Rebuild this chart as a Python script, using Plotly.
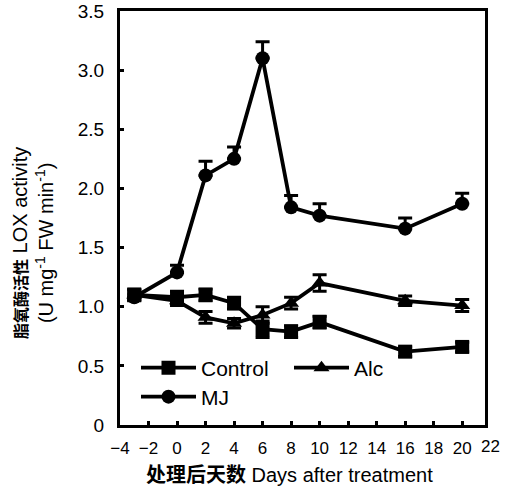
import plotly.graph_objects as go

# ---- data ----
days = [-3, 0, 2, 4, 6, 8, 10, 16, 20]
control = [1.10, 1.08, 1.10, 1.03, 0.81, 0.79, 0.87, 0.62, 0.66]
control_err = [0.05, 0.05, 0.05, 0.05, 0.07, 0.05, 0.05, 0.04, 0.04]
alc = [1.10, 1.05, 0.91, 0.86, 0.93, 1.03, 1.20, 1.05, 1.01]
alc_err = [0.04, 0.04, 0.05, 0.04, 0.07, 0.05, 0.07, 0.04, 0.05]
mj = [1.08, 1.29, 2.11, 2.25, 3.10, 1.84, 1.77, 1.66, 1.87]
mj_err = [0.03, 0.06, 0.12, 0.10, 0.14, 0.10, 0.10, 0.09, 0.09]

x_ticks = [-4, -2, 0, 2, 4, 6, 8, 10, 12, 14, 16, 18, 20]
x_ticktext = ["\u22124", "\u22122", "0", "2", "4", "6", "8", "10", "12", "14", "16", "18", "20"]
x_extra_tick = 22
y_ticks = [0, 0.5, 1.0, 1.5, 2.0, 2.5, 3.0, 3.5]
y_ticktext = ["0", "0.5", "1.0", "1.5", "2.0", "2.5", "3.0", "3.5"]

X_RANGE = [-4, 21.6]
Y_RANGE = [0, 3.5]

FONT = "Liberation Sans, Arial, Noto Sans CJK SC, sans-serif"
BLACK = "black"

fig = go.Figure()

def add(name, y, err, symbol, legend, up_only=False):
    ey = dict(type="data", array=err, color=BLACK, thickness=3, width=7, visible=True)
    if up_only:
        ey.update(symmetric=False, arrayminus=[0] * len(err))
    fig.add_trace(go.Scatter(
        x=days, y=y, name=name, mode="lines+markers",
        line=dict(color=BLACK, width=3.8),
        marker=dict(symbol=symbol, size=14, color=BLACK),
        error_y=ey, legend=legend, cliponaxis=False,
    ))

add("Control", control, control_err, "square", "legend")
add("Alc", alc, alc_err, "triangle-up", "legend2")
add("MJ", mj, mj_err, "circle", "legend3", up_only=True)

W, H = 505, 487
L, R, T, B = 120, 20, 11, 62
pw, ph = W - L - R, H - T - B

def px_to_paper_x(px):
    return (px - L) / pw

def px_to_paper_y(py):
    return (H - B - py) / ph

legend_common = dict(bgcolor="rgba(0,0,0,0)", borderwidth=0, itemwidth=55,
                     font=dict(family=FONT, size=21, color=BLACK),
                     xanchor="left", yanchor="middle", tracegroupgap=0)

fig.update_layout(
    template="none",
    width=W, height=H,
    margin=dict(l=L, r=R, t=T, b=B, pad=0, autoexpand=False),
    paper_bgcolor="white", plot_bgcolor="white",
    showlegend=True,
    legend=dict(x=px_to_paper_x(136), y=px_to_paper_y(368), **legend_common),
    legend2=dict(x=px_to_paper_x(289), y=px_to_paper_y(368), **legend_common),
    legend3=dict(x=px_to_paper_x(136), y=px_to_paper_y(397), **legend_common),
    font=dict(family=FONT, color=BLACK),
    xaxis=dict(
        range=X_RANGE, tickvals=x_ticks, ticktext=x_ticktext,
        showline=True, linecolor=BLACK, linewidth=3, mirror=True,
        ticks="inside", ticklen=4, tickwidth=3, tickcolor=BLACK,
        showgrid=False, zeroline=False, automargin=False,
        tickfont=dict(family=FONT, size=17, color=BLACK),
        ticklabelstandoff=6, ticklabeloverflow="allow",
    ),
    yaxis=dict(
        range=Y_RANGE, tickvals=y_ticks, ticktext=y_ticktext,
        showline=True, linecolor=BLACK, linewidth=3, mirror=True,
        ticks="inside", ticklen=4, tickwidth=3, tickcolor=BLACK,
        showgrid=False, zeroline=False, automargin=False,
        tickfont=dict(family=FONT, size=19, color=BLACK),
        ticklabelstandoff=9, ticklabeloverflow="allow",
    ),
)

# extra "22" tick label beyond the frame
fig.add_annotation(
    x=(x_extra_tick - X_RANGE[0]) / (X_RANGE[1] - X_RANGE[0]), xref="paper",
    y=px_to_paper_y(446), yref="paper", text=str(x_extra_tick), showarrow=False,
    xanchor="center", yanchor="middle",
    font=dict(family=FONT, size=17, color=BLACK),
)

# y title (two lines, rotated)
fig.add_annotation(
    x=px_to_paper_x(33), xref="paper", y=px_to_paper_y(243), yref="paper",
    text='<span style="font-size:16px;font-weight:bold">脂氧酶活性</span> LOX activity<br>(U mg<sup>-1</sup> FW min<sup>-1</sup>)',
    textangle=-90, showarrow=False, xanchor="center", yanchor="middle",
    font=dict(family=FONT, size=20, color=BLACK),
)

# x title
fig.add_annotation(
    x=px_to_paper_x(289), xref="paper", y=px_to_paper_y(475), yref="paper",
    text='<b>处理后天数</b> Days after treatment', showarrow=False,
    xanchor="center", yanchor="middle",
    font=dict(family=FONT, size=20, color=BLACK),
)

fig.write_html(
    "out.html",
    config={"displayModeBar": False},
    post_script="document.body.style.margin='0';document.body.style.overflow='hidden';",
)
